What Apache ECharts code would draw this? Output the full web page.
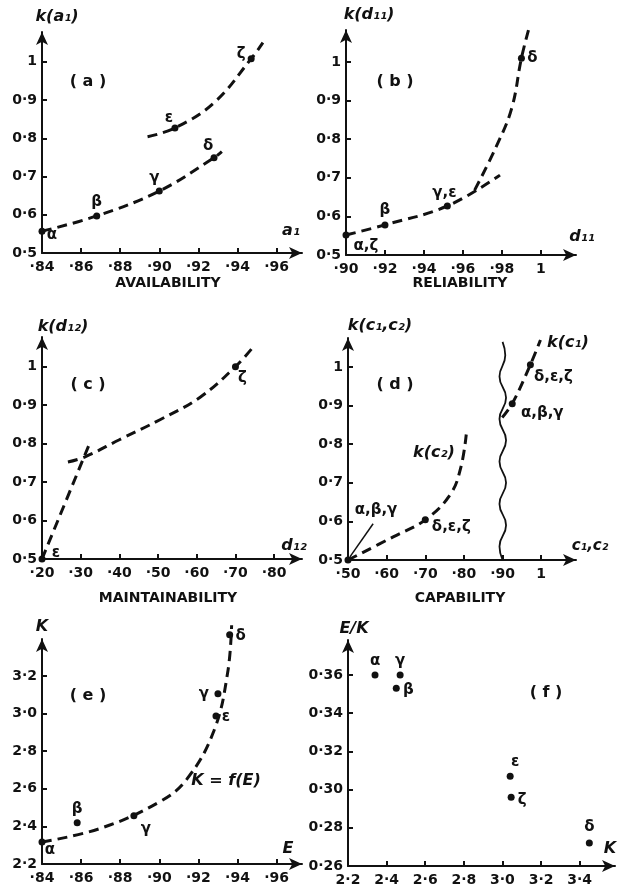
<!DOCTYPE html>
<html>
<head>
<meta charset="utf-8">
<script src="https://cdn.jsdelivr.net/npm/echarts@6/dist/echarts.min.js"></script>
<style>
html, body { margin: 0; background: #fff; }
#main { width: 626px; height: 888px; }
</style>
</head>
<body>
<div id="main"></div>
<script>
// (a) availability
var ptsA = [[0.84, 0.557], [0.868, 0.597], [0.90, 0.662], [0.928, 0.749], [0.908, 0.827], [0.947, 1.008]];
var namesA = ['α', 'β', 'γ', 'δ', 'ε', 'ζ'];
var curveA1 = [[0.84, 0.557], [0.868, 0.597], [0.90, 0.662], [0.928, 0.749], [0.932, 0.765]];
var curveA2 = [[0.894, 0.804], [0.908, 0.827], [0.928, 0.893], [0.947, 1.008], [0.953, 1.05]];

// (b) reliability
var ptsB = [[0.90, 0.552], [0.92, 0.578], [0.952, 0.627], [0.99, 1.01]];
var namesB = ['α,ζ', 'β', 'γ,ε', 'δ'];
var curveB1 = [[0.90, 0.552], [0.92, 0.578], [0.952, 0.627], [0.979, 0.707]];
var curveB2 = [[0.966, 0.668], [0.977, 0.78], [0.985, 0.88], [0.99, 1.01], [0.994, 1.09]];

// (c) maintainability
var ptsC = [[0.20, 0.50], [0.70, 1.0]];
var namesC = ['ε', 'ζ'];
var curveC1 = [[0.20, 0.50], [0.325, 0.805]];
var curveC2 = [[0.267, 0.752], [0.31, 0.765], [0.40, 0.81], [0.505, 0.862], [0.608, 0.92], [0.70, 1.0], [0.745, 1.05]];

// (d) capability
var ptsD = [[0.50, 0.50], [0.70, 0.604], [0.925, 0.905], [0.972, 1.006]];
var namesD = ['α,β,γ', 'δ,ε,ζ', 'α,β,γ', 'δ,ε,ζ'];
var curveDc2 = [[0.50, 0.50], [0.617, 0.56], [0.70, 0.604], [0.765, 0.67], [0.792, 0.74], [0.806, 0.825]];
var curveDc1 = [[0.899, 0.869], [0.925, 0.905], [0.972, 1.006], [0.998, 1.07]];
var breakLine = [[0.90, 0.50], [0.892, 0.535], [0.909, 0.59], [0.892, 0.645], [0.909, 0.70], [0.892, 0.755],
                 [0.909, 0.81], [0.892, 0.865], [0.909, 0.92], [0.892, 0.975], [0.907, 1.03], [0.90, 1.065]];
var leaderD = [[0.505, 0.508], [0.565, 0.594]];

// (e) K against E
var ptsE = [[0.84, 2.317], [0.858, 2.42], [0.887, 2.457], [0.930, 3.106], [0.929, 2.987], [0.936, 3.42]];
var namesE = ['α', 'β', 'γ', 'γ', 'ε', 'δ'];
var curveE = [[0.84, 2.317], [0.870, 2.39], [0.90, 2.53], [0.914, 2.65], [0.928, 2.91], [0.935, 3.22], [0.937, 3.47]];

// (f) E/K against K
var ptsF = [[2.34, 0.36], [2.47, 0.36], [2.45, 0.353], [3.04, 0.307], [3.045, 0.296], [3.45, 0.272]];
var namesF = ['α', 'γ', 'β', 'ε', 'ζ', 'δ'];

// tick labels
var ticksAx = [0.84, 0.86, 0.88, 0.90, 0.92, 0.94, 0.96];
var ticksBx = [0.90, 0.92, 0.94, 0.96, 0.98, 1.0];
var ticksCx = [0.2, 0.3, 0.4, 0.5, 0.6, 0.7, 0.8];
var ticksDx = [0.5, 0.6, 0.7, 0.8, 0.9, 1.0];
var ticksKy = [0.5, 0.6, 0.7, 0.8, 0.9, 1.0];
var ticksEx = [0.84, 0.86, 0.88, 0.90, 0.92, 0.94, 0.96];
var ticksEy = [2.2, 2.4, 2.6, 2.8, 3.0, 3.2];
var ticksFx = [2.2, 2.4, 2.6, 2.8, 3.0, 3.2, 3.4];
var ticksFy = [0.26, 0.28, 0.30, 0.32, 0.34, 0.36];

var INK = '#111';
var FONT = 'DejaVu Sans';

function fmtDot(v) { return v >= 0.999 ? '1' : '·' + Math.round(v * 100); }
function fmtK(v) { return v >= 0.999 ? '1' : v.toFixed(1).replace('.', '·'); }
function fmt1(v) { return v.toFixed(1).replace('.', '·'); }
function fmt2(v) { return v.toFixed(2).replace('.', '·'); }

function axis(grid, min, max, ticks, fmt, isY) {
    return {
        type: 'value', gridIndex: grid, min: min, max: max,
        axisLine: { show: true, symbol: ['none', 'arrow'], symbolSize: [9, 13],
                    lineStyle: { color: INK, width: 2 } },
        axisTick: { show: true, inside: true, length: 5, customValues: ticks,
                    lineStyle: { color: INK, width: 2 } },
        axisLabel: { customValues: ticks, formatter: fmt, color: INK, fontFamily: FONT,
                     fontWeight: 'bold', fontSize: 14, margin: isY ? 5 : 7 },
        splitLine: { show: false }
    };
}

var grids = [
    { left: 42, top: 32, width: 260, height: 221 },
    { left: 346, top: 30, width: 230, height: 225 },
    { left: 42, top: 337, width: 260, height: 222 },
    { left: 348, top: 338, width: 228, height: 222 },
    { left: 42, top: 639, width: 260, height: 225 },
    { left: 348, top: 640, width: 267, height: 226 }
];

var xAxes = [
    axis(0, 0.84, 0.973, ticksAx, fmtDot),
    axis(1, 0.90, 1.018, ticksBx, fmtDot),
    axis(2, 0.20, 0.872, ticksCx, fmtDot),
    axis(3, 0.50, 1.09, ticksDx, fmtDot),
    axis(4, 0.84, 0.973, ticksEx, fmtDot),
    axis(5, 2.2, 3.583, ticksFx, fmt1)
];
var yAxes = [
    axis(0, 0.5, 1.078, ticksKy, fmtK, true),
    axis(1, 0.5, 1.083, ticksKy, fmtK, true),
    axis(2, 0.5, 1.077, ticksKy, fmtK, true),
    axis(3, 0.5, 1.075, ticksKy, fmtK, true),
    axis(4, 2.2, 3.397, ticksEy, fmt1, true),
    axis(5, 0.26, 0.3783, ticksFy, fmt2, true)
];

function dashed(idx, data) {
    return { type: 'line', xAxisIndex: idx, yAxisIndex: idx, data: data, smooth: 0.4,
             showSymbol: false, clip: false, silent: true,
             lineStyle: { color: INK, width: 3, type: [10, 6] } };
}
function solid(idx, data, smooth, w) {
    return { type: 'line', xAxisIndex: idx, yAxisIndex: idx, data: data, smooth: smooth,
             showSymbol: false, clip: false, silent: true,
             lineStyle: { color: INK, width: w } };
}
function dots(idx, pts, names, offs) {
    return {
        type: 'scatter', xAxisIndex: idx, yAxisIndex: idx, symbolSize: 7, clip: false,
        itemStyle: { color: INK, opacity: 1 },
        data: pts.map(function (p, i) {
            return { value: p, label: { offset: offs[i] } };
        }),
        label: { show: true, position: 'inside', color: INK, fontFamily: FONT,
                 fontWeight: 'bold', fontSize: 15,
                 formatter: function (p) { return names[p.dataIndex]; } }
    };
}

// label offsets (px) relative to each dot
var offA = [[10, 4], [0, -14], [-5, -13], [-6, -12], [-6, -10], [-10, -5]];
var offB = [[20, 11], [0, -15], [-3, -13], [11, 0]];
var offC = [[14, -6], [7, 11]];
var offD = [[28, -50], [26, 7], [30, 9], [23, 12]];
var offE = [[8, 8], [0, -14], [12, 13], [-14, 0], [10, 1], [11, 1]];
var offF = [[0, -14], [0, -14], [12, 2], [5, -14], [11, 3], [0, -16]];

function txt(s, x, y, size, italic) {
    return { type: 'text', x: x, y: y, silent: true,
             style: { text: s, fill: INK, fontFamily: FONT, fontWeight: 'bold',
                      fontStyle: italic ? 'italic' : 'normal', fontSize: size || 14,
                      align: 'center', verticalAlign: 'middle' } };
}

var graphics = [
    // y-axis names
    txt('k(a₁)', 57, 17, 16, true),
    txt('k(d₁₁)', 369, 15, 16, true),
    txt('k(d₁₂)', 63, 327, 16, true),
    txt('k(c₁,c₂)', 380, 326, 16, true),
    txt('K', 42, 627, 16, true),
    txt('E/K', 354, 629, 16, true),
    // x-axis names
    txt('a₁', 291, 231, 16, true),
    txt('d₁₁', 582, 237, 16, true),
    txt('d₁₂', 294, 546, 16, true),
    txt('c₁,c₂', 590, 546, 15, true),
    txt('E', 288, 849, 16, true),
    txt('K', 610, 849, 16, true),
    // panel tags
    txt('( a )', 88, 82, 16),
    txt('( b )', 395, 82, 16),
    txt('( c )', 88, 385, 16),
    txt('( d )', 395, 385, 16),
    txt('( e )', 88, 696, 16),
    txt('( f )', 546, 693, 16),
    // curve labels
    txt('k(c₁)', 568, 343, 16, true),
    txt('k(c₂)', 434, 453, 16, true),
    txt('K = f(E)', 226, 781, 16, true),
    // quantity titles
    txt('AVAILABILITY', 168, 283, 14),
    txt('RELIABILITY', 460, 283, 14),
    txt('MAINTAINABILITY', 168, 598, 14),
    txt('CAPABILITY', 460, 598, 14)
];

var chart = echarts.init(document.getElementById('main'));
chart.setOption({
    backgroundColor: '#fff',
    animation: false,
    grid: grids,
    xAxis: xAxes,
    yAxis: yAxes,
    graphic: graphics,
    series: [
        dashed(0, curveA1), dashed(0, curveA2), dots(0, ptsA, namesA, offA),
        dashed(1, curveB1), dashed(1, curveB2), dots(1, ptsB, namesB, offB),
        dashed(2, curveC1), dashed(2, curveC2), dots(2, ptsC, namesC, offC),
        dashed(3, curveDc2), dashed(3, curveDc1), solid(3, breakLine, true, 1.8),
        solid(3, leaderD, false, 1.5), dots(3, ptsD, namesD, offD),
        dashed(4, curveE), dots(4, ptsE, namesE, offE),
        dots(5, ptsF, namesF, offF)
    ]
});
</script>
</body>
</html>
